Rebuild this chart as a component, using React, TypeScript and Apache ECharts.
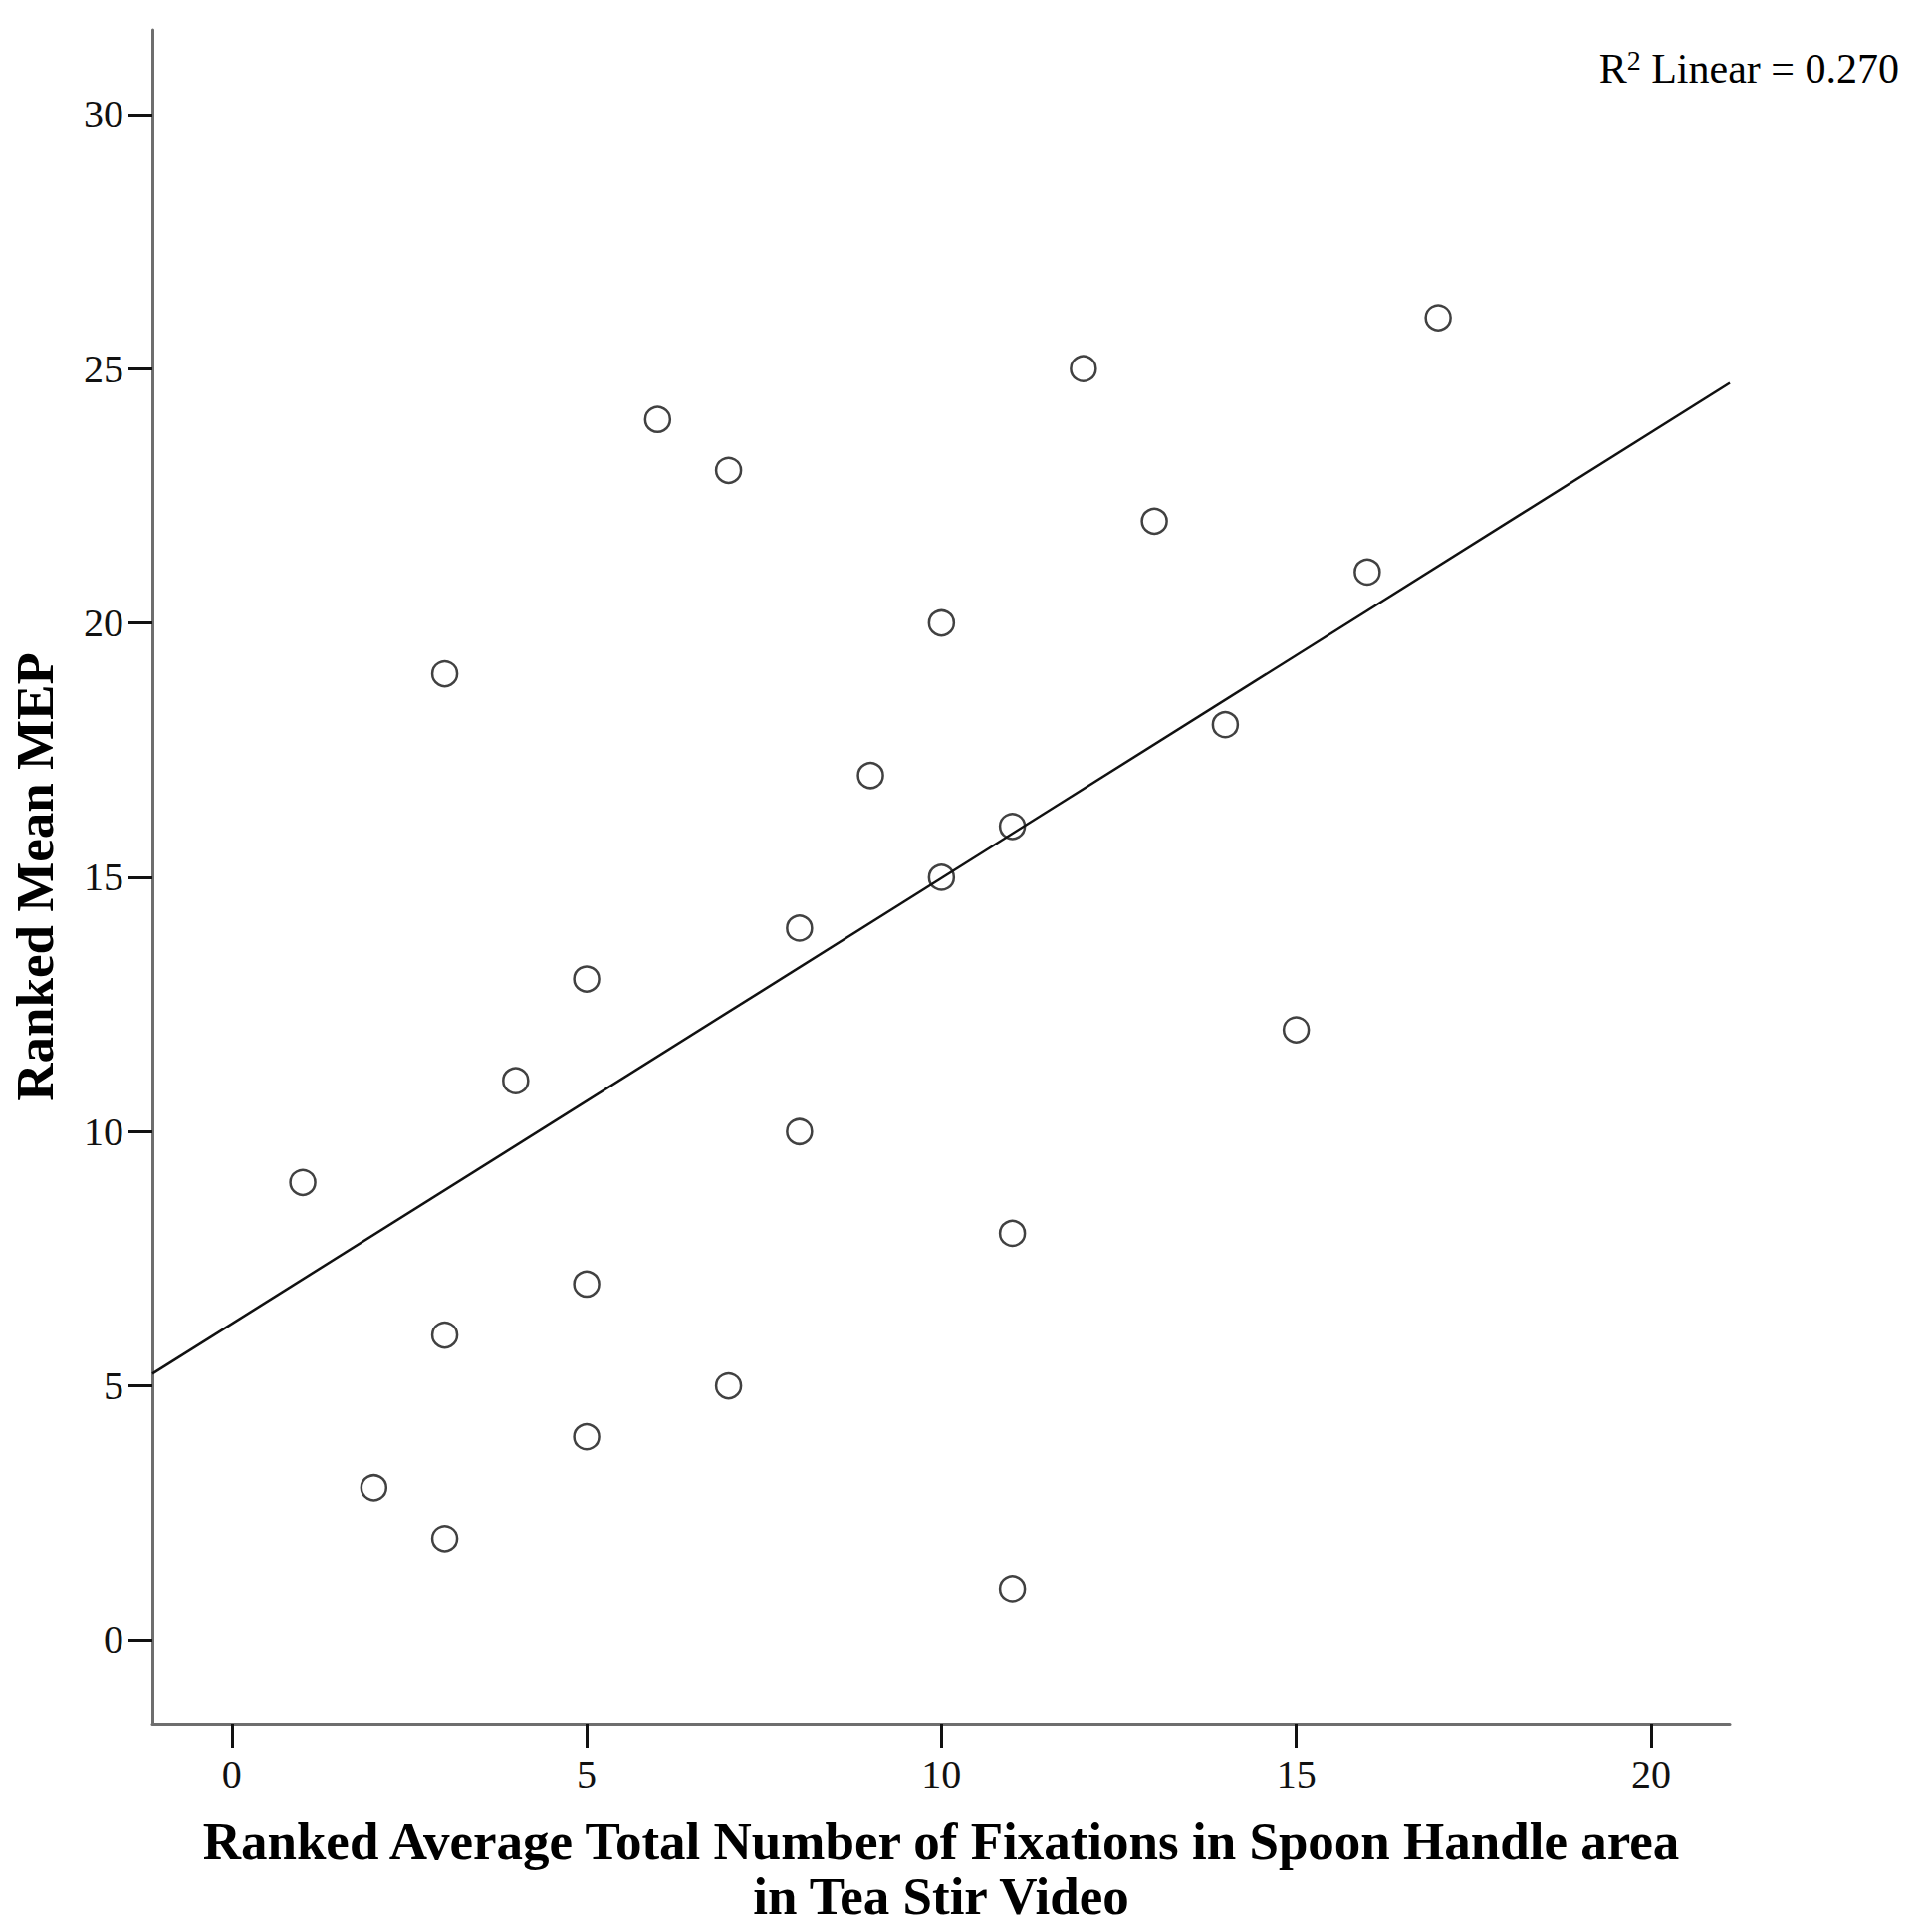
import React, { useEffect, useRef } from "react";
import * as echarts from "echarts";

// Ranked average total number of fixations (x) vs ranked mean MEP (y)
const xValues = [1, 2, 3, 3, 3, 4, 5, 5, 5, 6, 7, 7, 8, 8, 9, 10, 10, 11, 11, 11, 12, 13, 14, 15, 16, 17];
const yValues = [9, 3, 19, 6, 2, 11, 13, 7, 4, 24, 23, 5, 14, 10, 17, 20, 15, 16, 8, 1, 25, 22, 18, 12, 21, 26];
const xTicks = [0, 5, 10, 15, 20];
const yTicks = [0, 5, 10, 15, 20, 25, 30];
const xRange = [-1.12, 21.11];
const yRange = [-1.645, 31.66];
const xTitle = "Ranked Average Total Number of Fixations in Spoon Handle area\nin Tea Stir Video";
const yTitle = "Ranked Mean MEP";

function linearFit(xs: number[], ys: number[]) {
  const n = xs.length;
  const mx = xs.reduce((a, b) => a + b, 0) / n;
  const my = ys.reduce((a, b) => a + b, 0) / n;
  let sxy = 0, sxx = 0, syy = 0;
  for (let i = 0; i < n; i++) {
    sxy += (xs[i] - mx) * (ys[i] - my);
    sxx += (xs[i] - mx) ** 2;
    syy += (ys[i] - my) ** 2;
  }
  const slope = sxy / sxx;
  const intercept = my - slope * mx;
  const r2 = (sxy * sxy) / (sxx * syy);
  return { slope, intercept, r2 };
}

export default function App() {
  const ref = useRef<HTMLDivElement>(null);
  useEffect(() => {
    document.body.style.margin = "0";
    if (!ref.current) return;
    const chart = echarts.init(ref.current, null, { renderer: "svg" });
    const fit = linearFit(xValues, yValues);
    const lineData = [
      [xRange[0], fit.intercept + fit.slope * xRange[0]],
      [xRange[1], fit.intercept + fit.slope * xRange[1]],
    ];
    const serif = "'Liberation Serif', 'Times New Roman', serif";
    chart.setOption({
      animation: false,
      backgroundColor: "#ffffff",
      grid: { left: 152, top: 30, right: 203, bottom: 209, containLabel: false },
      xAxis: {
        type: "value",
        min: xRange[0],
        max: xRange[1],
        splitLine: { show: false },
        axisLine: { show: true, onZero: false, lineStyle: { color: "#6e6e6e", width: 3 } },
        axisTick: { show: true, length: 24, customValues: xTicks, lineStyle: { color: "#111", width: 3 } },
        axisLabel: { customValues: xTicks, margin: 30, fontFamily: serif, fontSize: 40, color: "#111" },
        name: xTitle,
        nameLocation: "middle",
        nameGap: 90,
        nameTextStyle: { fontFamily: serif, fontWeight: "bold", fontSize: 53, lineHeight: 55, color: "#000" },
      },
      yAxis: {
        type: "value",
        min: yRange[0],
        max: yRange[1],
        splitLine: { show: false },
        axisLine: { show: true, onZero: false, lineStyle: { color: "#6e6e6e", width: 3 } },
        axisTick: { show: true, length: 24, customValues: yTicks, lineStyle: { color: "#111", width: 3 } },
        axisLabel: { customValues: yTicks, margin: 29, fontFamily: serif, fontSize: 40, color: "#111" },
        name: yTitle,
        nameLocation: "middle",
        nameGap: 92,
        nameTextStyle: { fontFamily: serif, fontWeight: "bold", fontSize: 53, color: "#000" },
      },
      graphic: [
        {
          type: "text",
          right: 33,
          top: 46,
          style: {
            text: "{r|R}{s|2}{r| Linear = " + fit.r2.toFixed(3) + "}",
            rich: {
              r: { fontFamily: serif, fontSize: 42, color: "#111", lineHeight: 46 },
              s: { fontFamily: serif, fontSize: 28, color: "#111", verticalAlign: "top", lineHeight: 46, padding: [0, 0, 18, 0] },
            },
          },
        },
      ],
      series: [
        {
          type: "line",
          data: lineData,
          symbol: "none",
          lineStyle: { color: "#111", width: 2.5 },
          z: 2,
        },
        {
          type: "scatter",
          data: xValues.map((x, i) => [x, yValues[i]]),
          symbol: "circle",
          symbolSize: 25,
          itemStyle: { color: "rgba(0,0,0,0)", borderColor: "#111", borderWidth: 2.5 },
          z: 3,
        },
      ],
    });
    return () => chart.dispose();
  }, []);
  return <div ref={ref} style={{ width: 1940, height: 1940 }} />;
}
